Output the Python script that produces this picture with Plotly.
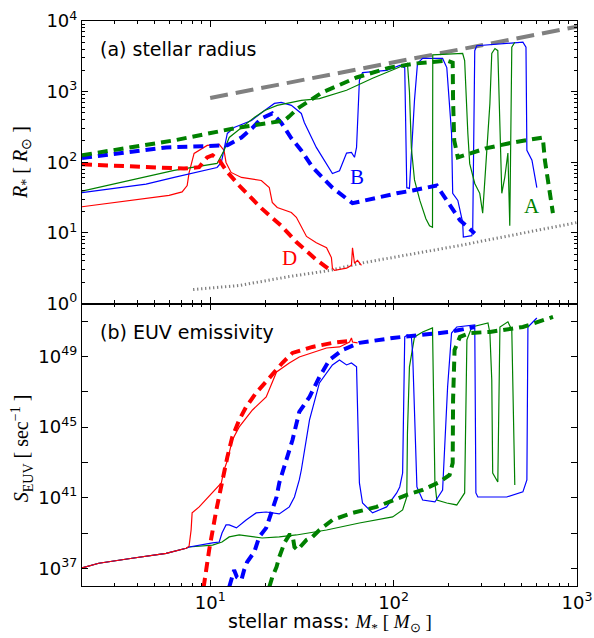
import numpy as np
import plotly.graph_objects as go
from plotly.subplots import make_subplots

# ---------------- data ----------------
# Panel (a): stellar radius, log10(R*/Rsun)
ref_M = [10, 1000]
ref_logR = [2.91, 3.92]                       # gray long dashes

zams_M = [8.07, 14.4, 27.0, 44.7, 65.1, 230, 1000]
zams_logR = [0.198, 0.255, 0.382, 0.467, 0.567, 0.822, 1.147]   # gray dotted

A_dash_M = [2.0, 6.36, 13.5, 25.4, 27.0, 29.9, 40.9, 62.8, 95.1, 134, 195, 210, 211, 214, 224, 322, 447, 651, 668, 739]
A_dash_logR = [2.10, 2.31, 2.48, 2.59, 2.65, 2.76, 2.99, 3.20, 3.34, 3.40, 3.44, 3.41, 2.88, 2.31, 2.07, 2.20, 2.28, 2.35, 2.03, 1.28]

B_dash_M = [2.0, 5.75, 12.4, 14.8, 16.9, 19.0, 21.8, 24.4, 27.7, 31.3, 36.1, 46.4, 59.7, 76.8, 104, 127, 172, 195, 230, 277]
B_dash_logR = [2.06, 2.21, 2.24, 2.35, 2.48, 2.62, 2.69, 2.56, 2.34, 2.17, 1.93, 1.64, 1.42, 1.49, 1.56, 1.60, 1.67, 1.46, 1.18, 0.99]

D_dash_M = [2.0, 3.75, 6.19, 7.2, 8.7, 9.63, 10.3, 11.2, 12.4, 14.4, 19.0, 24.4, 29.5, 37.9, 46.4]
D_dash_logR = [1.97, 1.94, 1.91, 1.91, 1.93, 2.07, 2.10, 2.03, 1.86, 1.67, 1.35, 1.10, 0.87, 0.62, 0.45]

A_sol_M = [2.0, 4.47, 6.36, 10.9, 11.9, 12.7, 14.9, 17.4, 19.8, 23.2, 31.4, 39.4, 55.4, 76.8, 104, 119,
           122, 125, 130, 139, 150, 157, 163, 163.5, 238, 244, 254, 260, 277, 295, 306, 322, 335,
           343, 357, 370, 380, 389, 404, 420, 430, 441, 458]
A_sol_logR = [1.59, 1.79, 1.884, 1.983, 2.167, 2.351, 2.493, 2.635, 2.734, 2.805, 2.875, 2.90, 3.02, 3.19, 3.33, 3.40,
              3.00, 2.20, 1.75, 1.46, 1.20, 1.10, 1.08, 3.52, 3.54, 3.44, 2.41, 1.98, 1.70, 1.56, 1.28, 2.13, 2.83,
              3.54, 3.61, 3.58, 2.59, 1.56, 1.79, 2.13, 1.10, 3.63, 3.70]

B_sol_M = [2.0, 4.47, 6.36, 10.9, 11.5, 11.9, 12.4, 13.5, 16.8, 19.8, 22.4, 24.4, 27.7, 31.4, 32.6, 37.9, 43.1,
           46.4, 50.7, 55.4, 58.9, 61.2, 62.8, 65.1, 67.7, 91.6, 108, 115, 118, 122, 130, 135, 144,
           185, 195, 207, 210, 224, 238, 240, 267, 270, 277, 284, 507, 527, 533, 568, 604]
B_sol_logR = [1.57, 1.69, 1.785, 1.926, 1.997, 2.195, 2.408, 2.493, 2.592, 2.734, 2.833, 2.847, 2.805, 2.691, 2.564, 2.21, 1.98,
              1.84, 1.88, 2.13, 2.14, 2.07, 2.21, 3.16, 3.27, 3.30, 3.37, 3.34, 1.64, 1.63, 2.88, 3.40, 3.47,
              3.47, 3.34, 2.41, 1.56, 1.46, 1.15, 0.94, 0.96, 1.03, 3.58, 3.65, 3.70, 3.63, 2.17, 2.03, 1.64]

D_sol_M = [2.0, 3.61, 5.97, 7.03, 7.49, 7.67, 7.9, 8.17, 9.63, 11.2, 11.9, 12.2, 13.0, 14.8, 19.0, 21.0, 21.8,
           23.2, 27.7, 29.5, 33.5, 37.9, 43.1, 45.8, 46.4, 47.6, 55.4, 58.9, 59.7, 61.2, 63.6, 66.8]
D_sol_logR = [1.37, 1.46, 1.53, 1.58, 1.67, 1.85, 2.00, 2.125, 2.238, 2.252, 2.167, 1.997, 1.856, 1.785, 1.742, 1.643, 1.431,
              1.360, 1.289, 1.22, 0.95, 0.86, 0.79, 0.65, 0.50, 0.47, 0.50, 0.54, 0.79, 0.57, 0.61, 0.54]

# Panel (b): EUV emissivity, log10(S_EUV / s^-1)
low_M = [2.0, 2.47, 3.75, 5.75, 7.39]
low_logS = [37.03, 37.29, 37.57, 37.85, 38.14]

D_solS_M = [7.67, 7.87, 7.97, 8.71, 10.26, 11.5, 11.9, 12.4, 12.7, 13.2, 14.4, 17.0, 20.2, 21.8, 23.0, 27.0, 30.6,
            43.1, 50.7, 57.5, 58.9, 59.7, 63.6]
D_solS_logS = [38.25, 39.17, 40.14, 40.48, 41.27, 41.84, 42.57, 43.10, 43.54, 44.27, 45.01, 45.97, 46.71, 47.50, 48.12,
               48.63, 48.97, 49.48, 49.54, 49.82, 50.05, 49.82, 49.77]

B_solS_M = [7.67, 10.3, 11.2, 11.6, 12.2, 12.7, 13.9, 15.7, 17.8, 20.2, 23.8, 27.0, 28.8, 30.6, 31.4, 34.8, 39.4, 46.4,
            50.7, 55.4, 58.9, 62.8, 63.6, 65.1, 67.7, 76.8, 91.6, 104, 108, 112, 115, 119, 125, 127,
            134, 144, 168, 185, 197, 207, 221, 277, 281, 288, 414, 507, 533, 540, 604]
B_solS_logS = [38.21, 38.44, 38.49, 39.00, 39.46, 39.46, 39.29, 39.74, 40.14, 40.19, 40.08, 40.48, 41.04, 42.01, 42.57,
               45.41, 47.50, 48.52, 48.80, 48.52, 48.63, 48.41, 46.54, 41.84, 40.70, 40.14, 40.48, 41.27, 41.61,
               42.40, 50.11, 50.22, 50.11, 49.20, 41.61, 40.87, 40.76, 41.44, 47.27, 50.33, 50.67, 50.79,
               41.27, 41.04, 41.04, 41.33, 42.01, 50.67, 51.18]

A_solS_M = [7.67, 10.3, 11.6, 12.7, 14.4, 19.2, 23.8, 29.5, 36.1, 43.1, 65.1, 98.8, 112, 118, 119, 122, 130, 144, 163,
            168, 172, 195, 221, 244, 251, 267, 327, 335, 343, 347, 370, 380, 420, 441, 458]
A_solS_logS = [38.21, 38.32, 38.49, 38.78, 38.89, 38.72, 38.78, 38.89, 39.06, 39.17, 39.57, 39.91, 40.31, 41.04, 44.67,
               48.41, 50.11, 50.39, 50.62, 41.84, 40.87, 40.70, 40.59, 41.27, 49.94, 50.67, 50.90, 50.33, 47.67,
               42.40, 41.89, 50.67, 50.96, 50.50, 41.72]

D_dashS_M = [9.2, 9.87, 10.8, 11.5, 11.9, 12.4, 13.2, 14.4, 15.7, 17.8, 21.0, 24.7, 28.1, 36.1, 46.4, 57.5]
D_dashS_logS = [35.90, 38.04, 40.31, 41.61, 42.57, 43.30, 44.44, 45.41, 46.14, 46.94, 47.78, 48.63, 49.20,
                49.54, 49.77, 49.88]

B_dashS_M = [12.7, 13.2, 13.5, 14.0, 14.8, 15.3, 15.9, 17.4, 18.5, 20.2, 21.8, 23.0, 23.8, 24.7, 26.0, 28.1,
             30.6, 34.8, 39.4, 44.7, 52.6, 65.1, 98.8, 139, 202, 277]
B_dashS_logS = [35.94, 36.50, 36.90, 36.50, 36.34, 36.90, 37.36, 37.93, 38.78, 39.29, 40.31, 41.04, 41.84, 42.40,
                43.10, 44.27, 45.86, 46.71, 47.84, 48.80, 49.37, 49.77, 50.05, 50.22, 50.39, 50.67]

A_dashS_M = [21.0, 21.8, 23.0, 23.8, 25.4, 27.0, 28.1, 28.8, 29.9, 31.4, 33.5, 36.1, 39.4, 46.4, 59.7, 80.7, 98.8,
             118, 144, 178, 202, 210, 211, 215, 230, 260, 335, 507, 740]
A_dashS_logS = [35.94, 36.50, 37.08, 37.64, 38.44, 38.89, 38.89, 38.21, 38.04, 38.32, 38.61, 38.78, 39.17, 39.74,
                40.14, 40.48, 40.87, 41.16, 41.44, 41.89, 42.29, 42.97, 46.54, 49.37, 50.11, 50.33, 50.39, 50.67, 51.24]

# ---------------- styling ----------------
RED, BLUE, GREEN, GRAY = "#ff0000", "#0000ff", "#008000", "#808080"
DASH = "10px,6px"
SANS = "DejaVu Sans"
SERIF = "Liberation Serif"

fig = make_subplots(rows=2, cols=1, shared_xaxes=True, vertical_spacing=0)


def p10(a):
    return [10 ** v for v in a]


def add(xs, ys, color, width, dash, row):
    fig.add_trace(go.Scatter(x=xs, y=ys, mode="lines", showlegend=False, hoverinfo="skip",
                             line=dict(color=color, width=width, dash=dash)), row=row, col=1)


# panel a
add(ref_M, p10(ref_logR), GRAY, 4, "18px,8px", 1)
add(zams_M, p10(zams_logR), GRAY, 3, "1.3px,2.7px", 1)
add(D_sol_M, p10(D_sol_logR), RED, 1.2, "solid", 1)
add(B_sol_M, p10(B_sol_logR), BLUE, 1.2, "solid", 1)
add(A_sol_M, p10(A_sol_logR), GREEN, 1.2, "solid", 1)
add(D_dash_M, p10(D_dash_logR), RED, 4, DASH, 1)
add(B_dash_M, p10(B_dash_logR), BLUE, 4, DASH, 1)
add(A_dash_M, p10(A_dash_logR), GREEN, 4, DASH, 1)

# panel b
add(low_M + A_solS_M, p10(low_logS + A_solS_logS), GREEN, 1.2, "solid", 2)
add(low_M + B_solS_M, p10(low_logS + B_solS_logS), BLUE, 1.2, "solid", 2)
add(low_M + D_solS_M, p10(low_logS + D_solS_logS), RED, 1.2, "solid", 2)
add(D_dashS_M, p10(D_dashS_logS), RED, 4, DASH, 2)
add(B_dashS_M, p10(B_dashS_logS), BLUE, 4, DASH, 2)
add(A_dashS_M, p10(A_dashS_logS), GREEN, 4, DASH, 2)

# ---------------- axes ----------------
x_major = [10, 100, 1000]
x_text = ["10<sup>1</sup>", "10<sup>2</sup>", "10<sup>3</sup>"]
x_minor = [m * 10 ** k for k in range(0, 3) for m in range(2, 10) if m * 10 ** k <= 1000]

common = dict(showline=True, linecolor="black", linewidth=1.2, mirror="allticks", ticks="inside",
              ticklen=6, tickwidth=1, tickcolor="black", showgrid=False, zeroline=False, automargin=False,
              tickfont=dict(family=SANS, size=18, color="black"))

fig.update_xaxes(type="log", range=[np.log10(2), 3], tickmode="array", tickvals=x_major, ticktext=x_text,
                 minor=dict(ticks="inside", ticklen=3, tickcolor="black", tickmode="array", tickvals=x_minor,
                            showgrid=False),
                 **common)
fig.update_xaxes(showticklabels=False, row=1, col=1)

r_major = [1, 10, 100, 1000, 10000]
r_text = ["10<sup>0</sup>", "10<sup>1</sup>", "10<sup>2</sup>", "10<sup>3</sup>", "10<sup>4</sup>"]
r_minor = [m * 10 ** k for k in range(0, 4) for m in range(2, 10)]
fig.update_yaxes(type="log", range=[0, 4], tickmode="array", tickvals=r_major, ticktext=r_text,
                 minor=dict(ticks="inside", ticklen=3, tickcolor="black", tickmode="array", tickvals=r_minor,
                            showgrid=False),
                 domain=[0.5, 1.0], row=1, col=1, **common)

s_exp = list(range(37, 52, 2))
s_major = [10.0 ** e for e in s_exp]
s_text = [("10<sup>%d</sup>" % e) if e in (37, 41, 45, 49) else "" for e in s_exp]
fig.update_yaxes(type="log", range=[36, 52], tickmode="array", tickvals=s_major, ticktext=s_text,
                 domain=[0.0, 0.5], row=2, col=1, **common)

# ---------------- text ----------------
ann = []
ann.append(dict(text="(a) stellar radius", x=0.032, y=0.9504, xref="paper", yref="paper",
                xanchor="left", yanchor="middle", showarrow=False, font=dict(family=SANS, size=19, color="black")))
ann.append(dict(text="(b) EUV emissivity", x=0.032, y=0.4496, xref="paper", yref="paper",
                xanchor="left", yanchor="middle", showarrow=False, font=dict(family=SANS, size=19, color="black")))
ann.append(dict(text="stellar mass: <span style='font-family:Liberation Serif'><i>M</i><sub>*</sub> [ <i>M</i><sub>⊙</sub> ]</span>",
                x=0.501, y=-0.064, xref="paper", yref="paper", xanchor="center", yanchor="middle",
                showarrow=False, font=dict(family=SANS, size=19, color="black")))
ann.append(dict(text="<i>R</i><sub>*</sub> [ <i>R</i><sub>⊙</sub> ]", x=-0.121, y=0.749, xref="paper",
                yref="paper", xanchor="center", yanchor="middle", textangle=-90, showarrow=False,
                font=dict(family=SERIF, size=20, color="black")))
ann.append(dict(text="<i>S</i><sub>EUV</sub> [ sec<sup>−1</sup> ]", x=-0.121, y=0.244, xref="paper",
                yref="paper", xanchor="center", yanchor="middle", textangle=-90, showarrow=False,
                font=dict(family=SERIF, size=20, color="black")))
# curve labels (data coordinates, log axes -> log10 values)
for lab, m, r, c in [("D", 27.0, 4.34, RED), ("B", 63.5, 61, BLUE), ("A", 568, 23.7, GREEN)]:
    ann.append(dict(text=lab, x=np.log10(m), y=np.log10(r), xref="x", yref="y", showarrow=False,
                    xanchor="center", yanchor="middle", font=dict(family=SERIF, size=21, color=c)))

fig.update_layout(width=594, height=638, margin=dict(l=82, r=17, t=21, b=52, autoexpand=False),
                  plot_bgcolor="white", paper_bgcolor="white", annotations=ann)

fig.write_html("out.html")
